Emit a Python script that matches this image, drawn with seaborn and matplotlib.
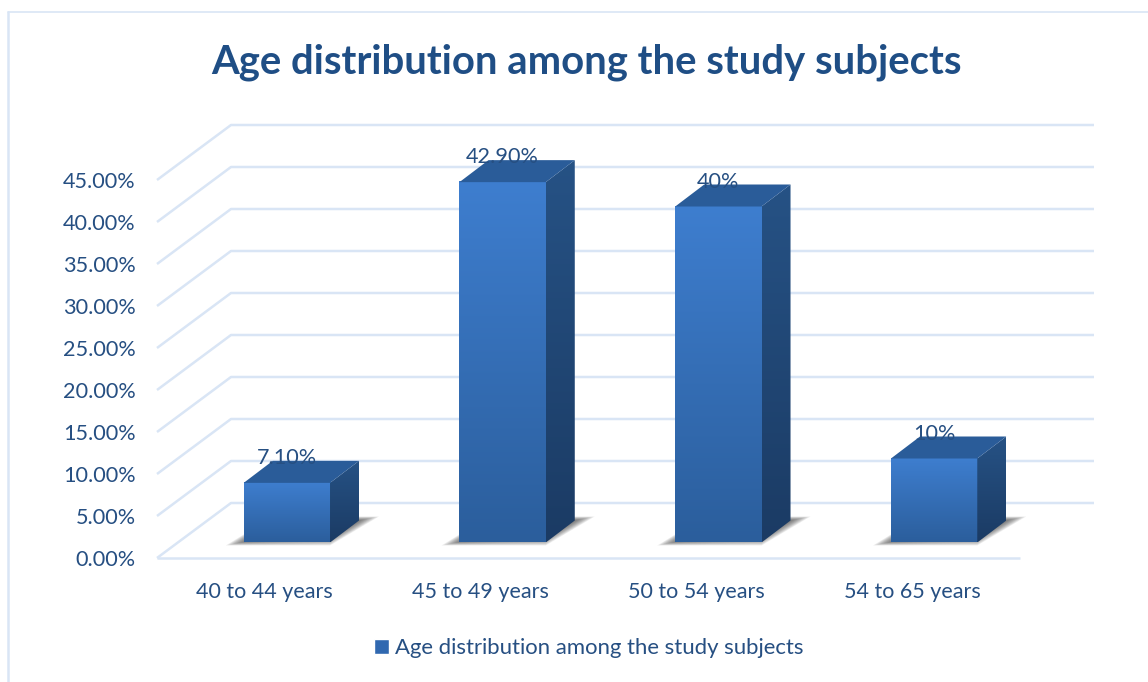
import numpy as np
import pandas as pd
import matplotlib
matplotlib.use("Agg")
import matplotlib.pyplot as plt
from matplotlib.lines import Line2D
from matplotlib.patches import Polygon
from matplotlib.transforms import IdentityTransform
from matplotlib.colors import LinearSegmentedColormap
import seaborn as sns

# values
age_groups = ["40 to 44 years", "45 to 49 years", "50 to 54 years", "54 to 65 years"]
percentages = [7.1, 42.9, 40.0, 10.0]
bar_labels = ["7.10%", "42.90%", "40%", "10%"]
y_ticks = [0, 5, 10, 15, 20, 25, 30, 35, 40, 45]
y_tick_labels = ["0.00%", "5.00%", "10.00%", "15.00%", "20.00%", "25.00%",
                 "30.00%", "35.00%", "40.00%", "45.00%"]
series_name = "Age distribution among the study subjects"

TEXT = "#264f82"
TITLE = "#1f4e85"
GRID = "#d9e5f5"
FLOOR_DX, FLOOR_DY = 74, 55
BAR_DX, BAR_DY = 29, 22
PLANE_DX, PLANE_DY = 22, 15.5

sns.set_theme(style="white")
plt.rcParams["font.family"] = ["Lato", "DejaVu Sans"]

W, H = 1148, 682
fig = plt.figure(figsize=(W / 100, H / 100), dpi=100, facecolor="white")
ax = fig.add_axes([157 / W, (H - 558) / H, 863 / W, 378 / H])
px = IdentityTransform()

df = pd.DataFrame({"group": age_groups, "pct": percentages})
sns.barplot(data=df, x="group", y="pct", width=0.4, color="#3068b0",
            label=series_name, legend=False, ax=ax, zorder=1)
ax.set_xlim(-0.5, 3.5)
ax.set_ylim(0, 45)
ax.patch.set_alpha(0)
sns.despine(ax=ax, left=True, bottom=True)
ax.set_xlabel("")
ax.set_ylabel("")
ax.set_yticks(y_ticks)
ax.set_yticklabels(y_tick_labels, color=TEXT, fontsize=15.6)
ax.tick_params(axis="y", length=0, pad=15.5)
ax.tick_params(axis="x", length=0, pad=17, labelsize=15.5, labelcolor=TEXT)

# walls: each gridline runs up the side wall then along the back
x_left, x_right = ax.get_xlim()
for t in y_ticks:
    lx, ly = ax.transData.transform((x_left, t))
    rx, _ = ax.transData.transform((x_right, t))
    ax.add_line(Line2D([lx, lx + FLOOR_DX, rx + FLOOR_DX],
                       [ly, ly + FLOOR_DY, ly + FLOOR_DY],
                       color=GRID, lw=1.8, solid_capstyle="butt",
                       transform=px, clip_on=False, zorder=0))
    if t == 0:
        ax.add_line(Line2D([lx, rx], [ly, ly], color=GRID, lw=1.8,
                           solid_capstyle="butt", transform=px, clip_on=False, zorder=0))

front_cmap = LinearSegmentedColormap.from_list("front", ["#3e7ecf", "#2b5e9c"])
side_cmap = LinearSegmentedColormap.from_list("side", ["#265285", "#1b3b64"])
ramp = np.linspace(0, 1, 256).reshape(-1, 1)

for bar, label in zip(ax.patches, bar_labels):
    (x0, y0), (x1, y1) = ax.transData.transform(
        [(bar.get_x(), 0), (bar.get_x() + bar.get_width(), bar.get_height())])
    x0, x1 = x0 + PLANE_DX, x1 + PLANE_DX
    y0, y1 = y0 + PLANE_DY, y1 + PLANE_DY
    bar.set_visible(False)

    # soft floor shadow, built from layered translucent shapes
    for i in range(12):
        ins = i * 1.7
        ax.add_patch(Polygon(
            [(x0 - 18 + ins, y0 - 3 + ins * 0.2), (x1, y0 - 3 + ins * 0.4),
             (x1 + BAR_DX + 20 - ins, y0 + BAR_DY + 4 - ins * 0.2),
             (x0 + BAR_DX, y0 + BAR_DY + 4 - ins * 0.2)],
            closed=True, fc="#333333", ec="none", alpha=0.08,
            transform=px, clip_on=False, zorder=1))

    ax.imshow(ramp, cmap=front_cmap, extent=(x0, x1, y0, y1), origin="upper",
              aspect="auto", transform=px, clip_on=False, zorder=3)
    side = Polygon([(x1, y0), (x1 + BAR_DX, y0 + BAR_DY),
                    (x1 + BAR_DX, y1 + BAR_DY), (x1, y1)],
                   closed=True, fc="none", ec="none", transform=px, clip_on=False)
    ax.add_patch(side)
    side_img = ax.imshow(ramp, cmap=side_cmap,
                         extent=(x1, x1 + BAR_DX, y0, y1 + BAR_DY), origin="upper",
                         aspect="auto", transform=px, zorder=3)
    side_img.set_clip_box(fig.bbox)
    side_img.set_clip_path(side)
    ax.add_patch(Polygon([(x0, y1), (x1, y1), (x1 + BAR_DX, y1 + BAR_DY),
                          (x0 + BAR_DX, y1 + BAR_DY)],
                         closed=True, fc="#2a5c99", ec="none", transform=px,
                         clip_on=False, zorder=3))
    ax.text((x0 + x1) / 2, y1 + 25, label, color=TEXT, fontsize=15.6, ha="center",
            va="center", transform=px, clip_on=False, zorder=5)

ax.set_xlim(x_left, x_right)
ax.set_ylim(0, 45)

fig.text(586 / W, (H - 62) / H, series_name, color=TITLE, fontsize=28.8,
         fontweight="bold", ha="center", va="center")

fig.legend(handles=[plt.Rectangle((0, 0), 1, 1, fc="#3068b0")], labels=[series_name],
           loc="center", bbox_to_anchor=(589 / W, (H - 648) / H), frameon=False,
           fontsize=15.9, labelcolor=TEXT, handlelength=0.68, handleheight=0.68,
           handletextpad=0.25)

# chart frame, only top and left show
fig.add_artist(Line2D([8 / W, 8 / W], [0, (H - 12) / H], color=GRID, lw=1.8))
fig.add_artist(Line2D([8 / W, 1], [(H - 12) / H, (H - 12) / H], color=GRID, lw=1.2))

fig.savefig("out.png", dpi=100)
plt.close(fig)
